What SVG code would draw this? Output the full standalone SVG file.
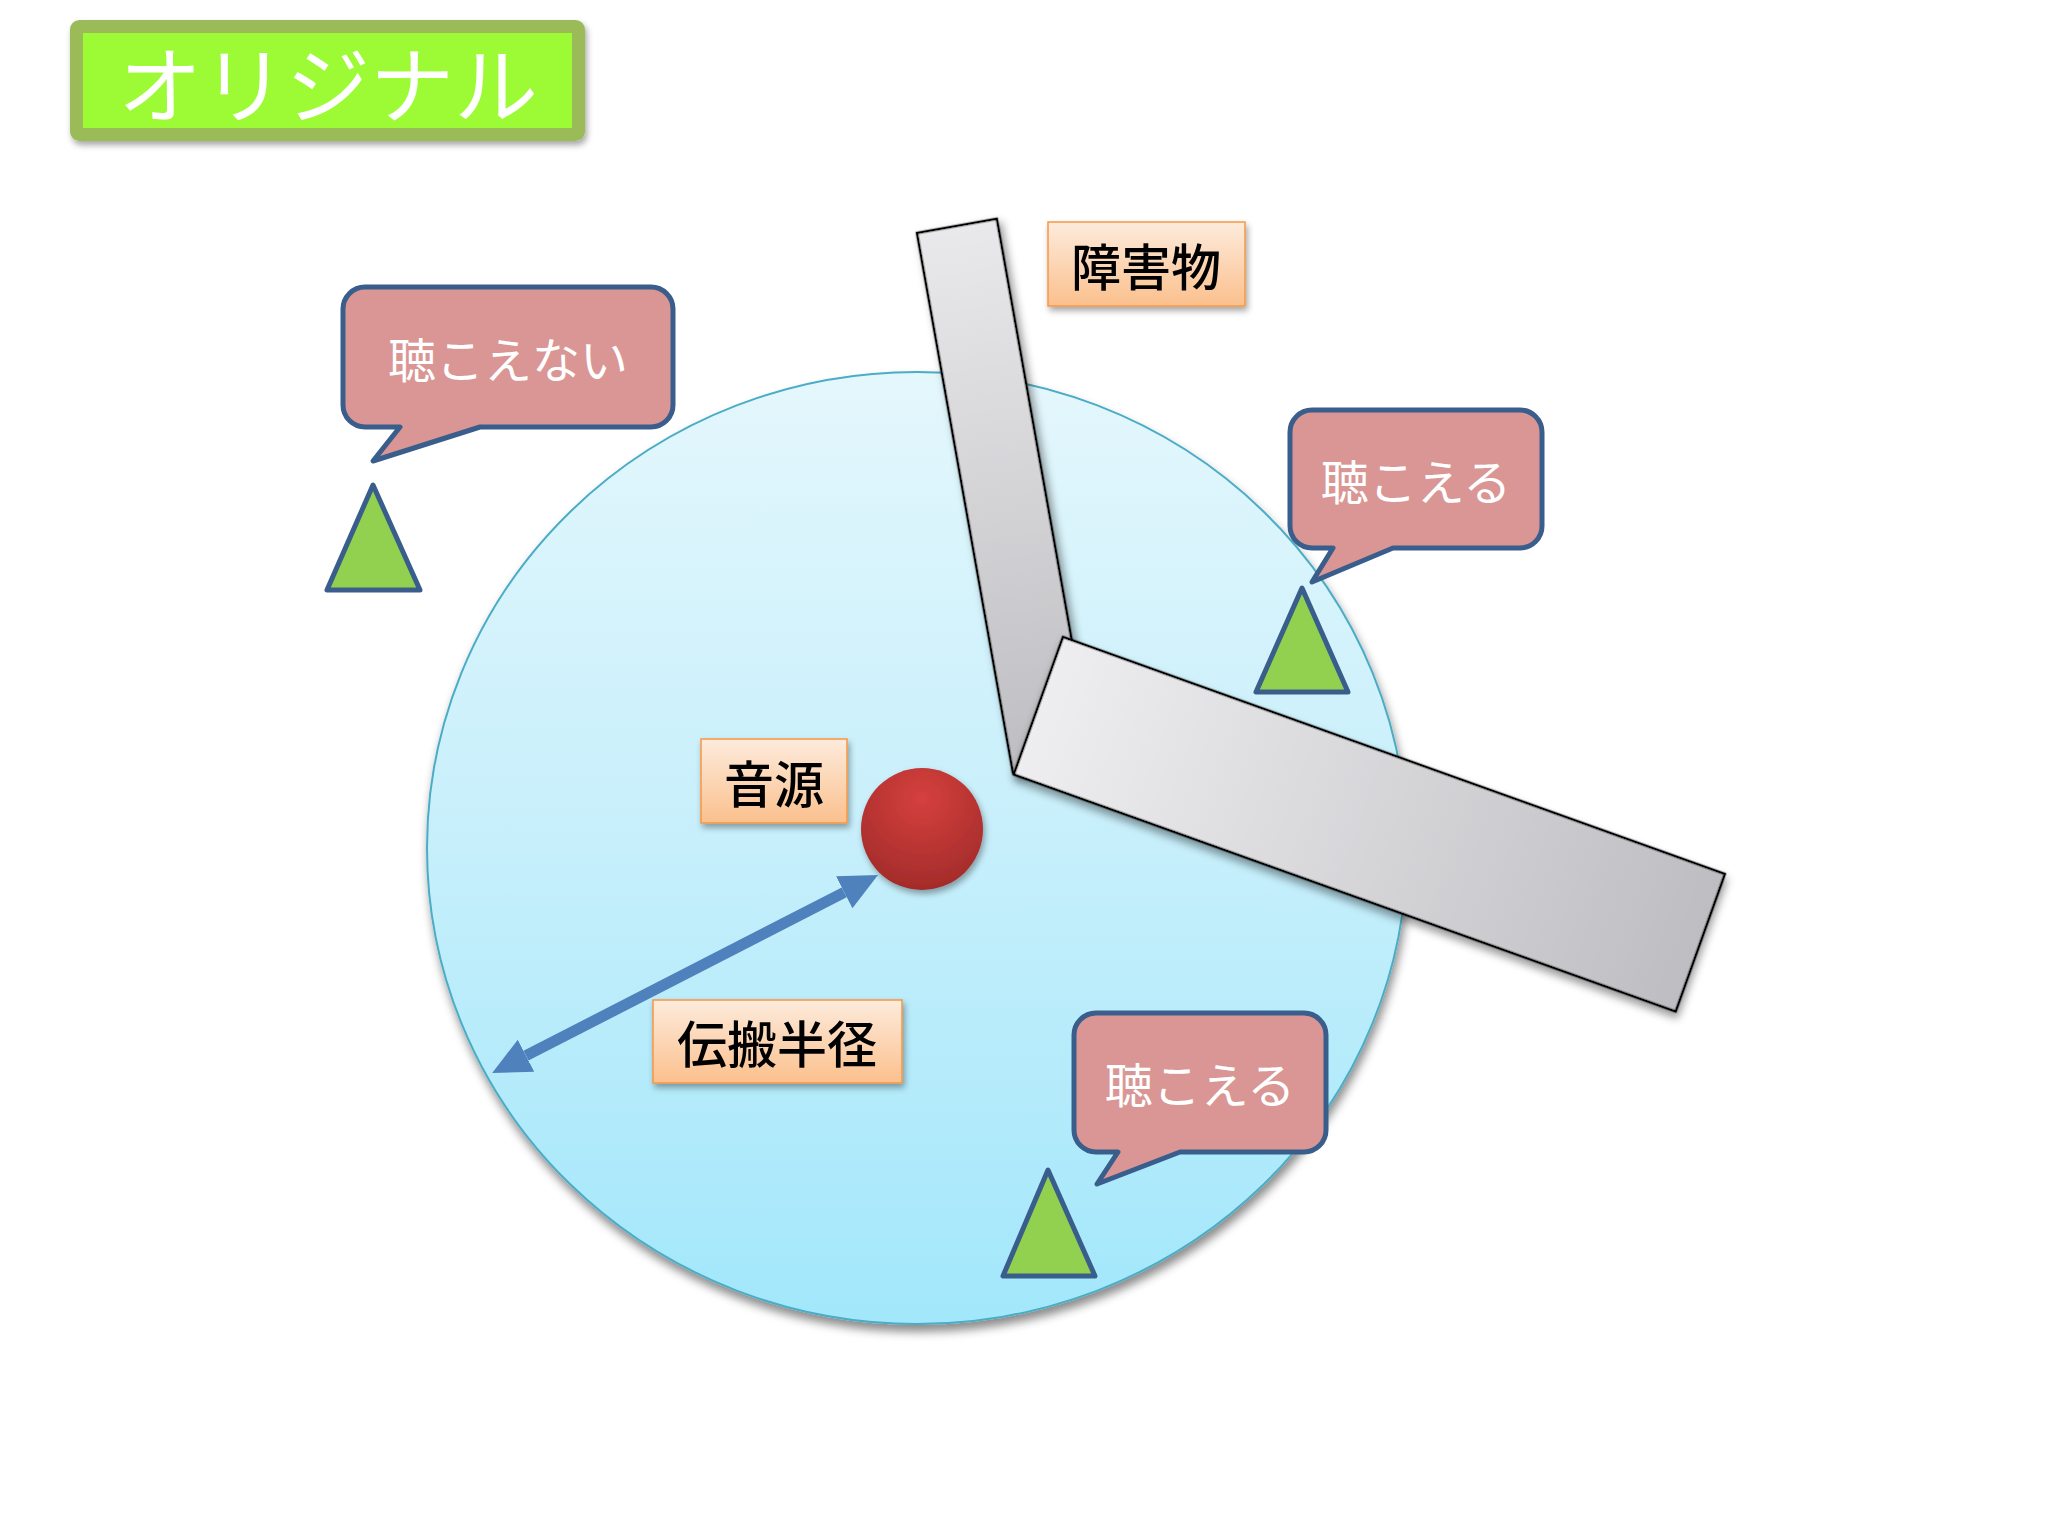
<svg xmlns="http://www.w3.org/2000/svg" width="2048" height="1536" viewBox="0 0 2048 1536">
  <style>
    .jp { font-family: "Noto Sans CJK JP", "Noto Sans CJK SC", sans-serif; }
    .bubble { fill: #D99694; stroke: #3A5E8C; stroke-width: 5; stroke-linejoin: round; }
    .bubble-text { fill: #FFFFFF; font-size: 48px; text-anchor: middle; dominant-baseline: central; }
    .listener { fill: #92D050; stroke: #3A5E8C; stroke-width: 5; stroke-linejoin: round; }
    .label-box { fill: url(#labelGrad); stroke: #F79646; stroke-width: 1.5; filter: url(#shadowSmall); }
    .label-text { fill: #000000; font-size: 50px; font-weight: 500; text-anchor: middle; dominant-baseline: central; }
    .bar { stroke: #000000; stroke-width: 2.5; stroke-linejoin: miter; }
  </style>
  <defs>
    <linearGradient id="rangeGrad" x1="0" y1="0" x2="0" y2="1">
      <stop offset="0" stop-color="#E4F7FC"/>
      <stop offset="0.5" stop-color="#C6EFFB"/>
      <stop offset="1" stop-color="#A2E7FB"/>
    </linearGradient>
    <linearGradient id="labelGrad" x1="0" y1="0" x2="0" y2="1">
      <stop offset="0" stop-color="#FDEBDC"/>
      <stop offset="1" stop-color="#FBC08D"/>
    </linearGradient>
    <linearGradient id="barGradH" x1="0" y1="0" x2="1" y2="0">
      <stop offset="0" stop-color="#EEEEF0"/>
      <stop offset="1" stop-color="#BEBDC1"/>
    </linearGradient>
    <linearGradient id="barGradV" x1="0" y1="0" x2="0" y2="1">
      <stop offset="0" stop-color="#E9E9EB"/>
      <stop offset="1" stop-color="#BEBDC1"/>
    </linearGradient>
    <radialGradient id="ballGrad" cx="0.5" cy="0.25" r="0.8">
      <stop offset="0" stop-color="#D5403D"/>
      <stop offset="1" stop-color="#A02A29"/>
    </radialGradient>
    <filter id="shadowSmall" x="-20%" y="-20%" width="150%" height="160%">
      <feDropShadow dx="2" dy="4" stdDeviation="3" flood-color="#000000" flood-opacity="0.35"/>
    </filter>
    <filter id="shadowBig" x="-10%" y="-10%" width="125%" height="130%">
      <feDropShadow dx="2" dy="7" stdDeviation="5" flood-color="#000000" flood-opacity="0.45"/>
    </filter>
    <filter id="shadowBar" x="-10%" y="-20%" width="130%" height="150%">
      <feDropShadow dx="3" dy="5" stdDeviation="4" flood-color="#000000" flood-opacity="0.4"/>
    </filter>
    <marker id="arrowHead" viewBox="0 -19 38 38" refX="0" refY="0" markerWidth="38" markerHeight="38" markerUnits="userSpaceOnUse" orient="auto-start-reverse">
      <path d="M0,-18 L38,0 L0,18 Z" fill="#4F81BD"/>
    </marker>
  </defs>

  <rect x="0" y="0" width="2048" height="1536" fill="#FFFFFF"/>

  <g id="title">
    <rect x="76.5" y="26.5" width="502" height="108" rx="3" fill="#9DFB34" stroke="#9BBB59" stroke-width="13" filter="url(#shadowSmall)"/>
    <text class="jp" x="328" y="80" font-size="84" fill="#FFFFFF" text-anchor="middle" dominant-baseline="central">オリジナル</text>
  </g>

  <g id="range">
    <ellipse cx="917" cy="848" rx="490" ry="476" fill="url(#rangeGrad)" stroke="#4BACC6" stroke-width="2" filter="url(#shadowBig)"/>
  </g>

  <g id="obstacle">
    <rect class="bar" transform="translate(917,233) rotate(-10.08)" x="0" y="0" width="81" height="548" fill="url(#barGradV)" filter="url(#shadowBar)"/>
    <rect class="bar" transform="translate(1063,637) rotate(19.7)" x="0" y="0" width="703" height="146" fill="url(#barGradH)" filter="url(#shadowBar)"/>
  </g>

  <g id="label-obstacle">
    <rect class="label-box" x="1048" y="222" width="197" height="84"/>
    <text class="jp label-text" x="1146" y="264">障害物</text>
  </g>

  <g id="source">
    <circle cx="922" cy="829" r="61" fill="url(#ballGrad)" filter="url(#shadowSmall)"/>
  </g>

  <g id="label-source">
    <rect class="label-box" x="701" y="739" width="146" height="84"/>
    <text class="jp label-text" x="774" y="781">音源</text>
  </g>

  <g id="connectors">
    <line x1="526" y1="1055.7" x2="844.2" y2="892.3" stroke="#4F81BD" stroke-width="11" marker-start="url(#arrowHead)" marker-end="url(#arrowHead)"/>
  </g>

  <g id="label-radius">
    <rect class="label-box" x="653" y="1000" width="249" height="83"/>
    <text class="jp label-text" x="777" y="1041">伝搬半径</text>
  </g>

  <g id="bubble-inaudible">
    <path class="bubble" d="M365,287 H651 A22,22 0 0 1 673,309 V405 A22,22 0 0 1 651,427 H480 L373,461 L400,427 H365 A22,22 0 0 1 343,405 V309 A22,22 0 0 1 365,287 Z"/>
    <text class="jp bubble-text" x="508" y="357">聴こえない</text>
  </g>
  <g id="listener-inaudible">
    <polygon class="listener" points="373,485 327,590 420,590"/>
  </g>

  <g id="bubble-audible-1">
    <path class="bubble" d="M1312,410 H1520 A22,22 0 0 1 1542,432 V526 A22,22 0 0 1 1520,548 H1393 L1312,582 L1333,548 H1312 A22,22 0 0 1 1290,526 V432 A22,22 0 0 1 1312,410 Z"/>
    <text class="jp bubble-text" x="1416" y="479">聴こえる</text>
  </g>
  <g id="listener-audible-1">
    <polygon class="listener" points="1302,588 1256,692 1348,692"/>
  </g>

  <g id="bubble-audible-2">
    <path class="bubble" d="M1096,1013 H1304 A22,22 0 0 1 1326,1035 V1130 A22,22 0 0 1 1304,1152 H1180 L1097,1184 L1118,1152 H1096 A22,22 0 0 1 1074,1130 V1035 A22,22 0 0 1 1096,1013 Z"/>
    <text class="jp bubble-text" x="1200" y="1082">聴こえる</text>
  </g>
  <g id="listener-audible-2">
    <polygon class="listener" points="1048,1170 1003,1276 1095,1276"/>
  </g>
</svg>
